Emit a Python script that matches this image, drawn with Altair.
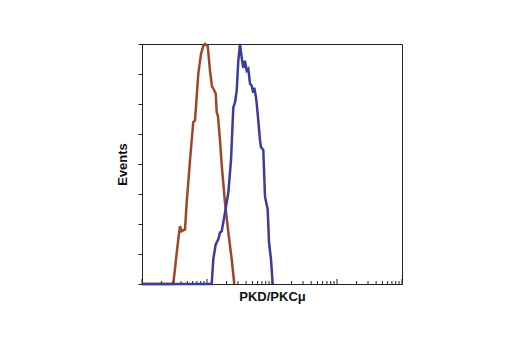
import altair as alt
import pandas as pd

# Fluorescence intensity (log axis) and event counts
red_x = [1, 3.03, 3.54, 3.84, 4.08, 4.59, 4.87, 5.48, 6.15, 6.54, 7.35, 8.09, 8.77,
         9.32, 10.25, 11.12, 11.94, 12.50, 13.61, 14.10, 14.77, 15.85, 16.84,
         18.92, 21.27, 23.99, 26.3]
red_y = [0, 0, 26.4, 38.5, 35.2, 36.4, 54.2, 82.6, 108.0, 109.1, 140.2, 153.4, 158.7,
         160, 158.7, 142.2, 131.6, 130.3, 127.0, 114.6, 111.7, 95.9, 79.3,
         54.2, 34.4, 16.5, 0]

blue_x = [1, 11.81, 12.50, 13.61, 14.92, 15.85, 16.84, 18.92, 21.27, 23.40, 25.39,
          26.97, 28.64, 30.30, 32.19, 34.19, 36.19, 38.43, 40.81, 43.19, 45.86,
          48.72, 51.56, 53.42, 56.74, 58.17, 61.53, 65.38, 67.72, 73.49, 78.03,
          85.88, 89.92, 96.52, 102.5]
blue_y = [0, 0, 16.5, 26.4, 29.8, 34.4, 35.2, 47.6, 60.8, 82.6, 117.7,
          121.0, 128.9, 148.8, 160, 150.8, 144.1, 148.8, 142.2, 143.5, 133.6,
          132.2, 127.6, 130.9, 124.3, 120.3, 109.1, 95.9, 91.2, 89.3, 58.2,
          49.6, 27.8, 16.5, 0]

major_ticks = [1, 10, 100, 1000, 10000]
minor_ticks = [2, 3, 4, 5, 6, 7, 8, 9,
               20, 30, 40, 50, 60, 70, 80, 90,
               200, 300, 400, 500, 600, 700, 800, 900,
               2000, 3000, 4000, 5000, 6000, 7000, 8000, 9000]
y_ticks = [0, 20, 40, 60, 80, 100, 120, 140, 160]

W, H = 260, 240
FONT = "Liberation Sans"

red_df = pd.DataFrame({"x": red_x, "y": red_y})
blue_df = pd.DataFrame({"x": blue_x, "y": blue_y})
major_df = pd.DataFrame({"x": major_ticks})
minor_df = pd.DataFrame({"x": minor_ticks})

xscale = alt.Scale(type="log", domain=[1, 10000], nice=False)
yscale = alt.Scale(domain=[0, 160], nice=False, zero=True)

xaxis = alt.Axis(title="PKD/PKCμ", ticks=False, labels=False, grid=False,
                 domainColor="#222", domainWidth=1, titleFont=FONT,
                 titleFontSize=13, titleFontWeight="bold", titleColor="#111",
                 titlePadding=6)
yaxis = alt.Axis(title="Events", values=y_ticks, labels=False,
                 labelOverlap=False, grid=False, tickSize=4, tickColor="#222",
                 domainColor="#222", titleFont=FONT, titleFontSize=13,
                 titleFontWeight="bold", titleColor="#111", titlePadding=8)

X = alt.X("x:Q", scale=xscale, axis=xaxis)
Y = alt.Y("y:Q", scale=yscale, axis=yaxis)

red = alt.Chart(red_df).mark_line(color="#a0452a", strokeWidth=2.5).encode(x=X, y=Y)
blue = alt.Chart(blue_df).mark_line(color="#3a3d9c", strokeWidth=2.5).encode(x=X, y=Y)
major = alt.Chart(major_df).mark_rule(color="#222", strokeWidth=1).encode(
    x=X, y=alt.value(H), y2=alt.value(H - 5),
)
minor = alt.Chart(minor_df).mark_rule(color="#222", strokeWidth=1).encode(
    x=X, y=alt.value(H), y2=alt.value(H - 3),
)

chart = alt.layer(red, major, minor, blue).properties(
    width=W, height=H,
    autosize=alt.AutoSizeParams(type="none"),
    padding={"left": 142, "top": 44, "right": 118, "bottom": 66},
    background="white",
).configure_view(stroke="#222", strokeWidth=1)

chart.save("out.html", embed_options={"renderer": "svg", "actions": False})
